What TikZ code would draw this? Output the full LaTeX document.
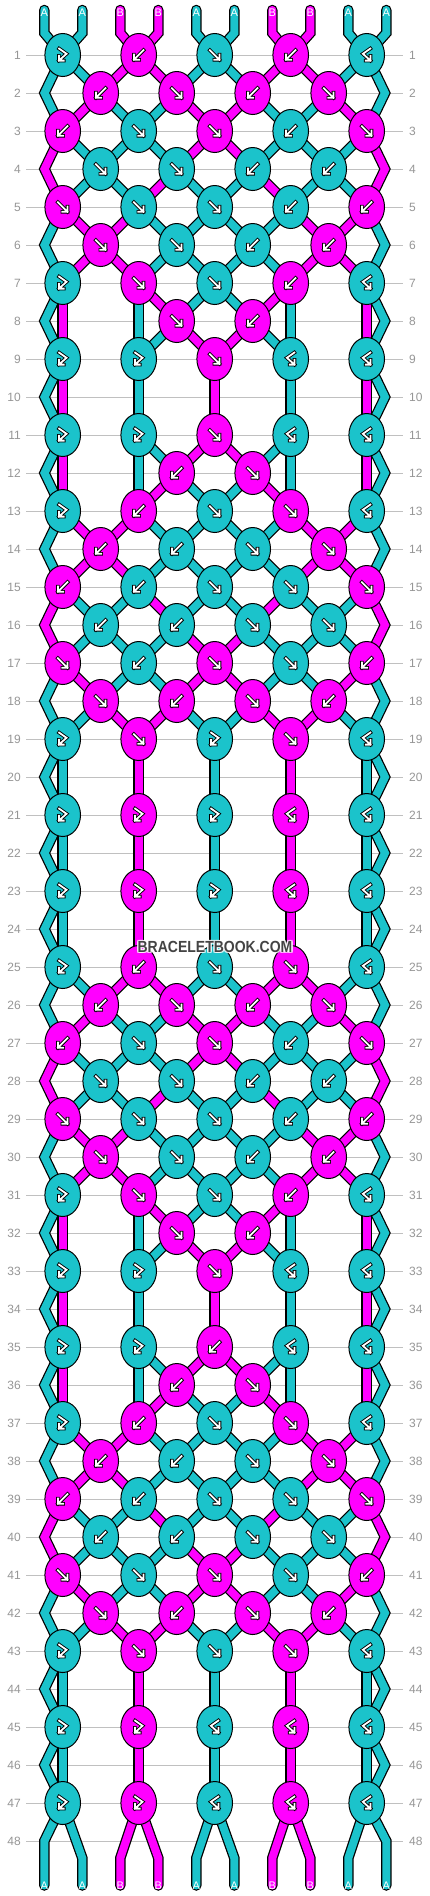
\documentclass[tikz,border=0pt]{standalone}
\usepackage{fontspec}
\setmainfont{Liberation Sans}
\usetikzlibrary{shapes.geometric}
\definecolor{colA}{RGB}{27,195,203}
\definecolor{colB}{RGB}{255,0,255}
\definecolor{gridc}{RGB}{192,192,192}
\definecolor{numc}{RGB}{150,150,150}
\definecolor{wmc}{RGB}{68,68,68}
\def\tyf{f}\def\tyb{b}\def\tyF{F}\def\tyB{B}
% knot types per row: f forward, b backward, F forward-backward, B backward-forward, 0 none
\foreach \rw/\qa/\qb/\qc/\qd/\qe in {
1/F/b/f/b/B, 2/b/f/b/f/x, 3/b/f/f/b/f, 4/f/f/b/b/x, 5/f/f/f/b/b, 6/f/f/b/b/x,
7/F/f/f/b/B, 8/0/f/b/0/x, 9/F/F/f/B/B, 10/0/0/0/0/x, 11/F/F/f/B/B, 12/0/b/f/0/x,
13/F/b/f/f/B, 14/b/b/f/f/x, 15/b/b/f/f/f, 16/b/b/f/f/x, 17/f/b/f/f/b, 18/f/b/f/b/x,
19/F/f/F/f/B, 20/0/0/0/0/x, 21/F/F/F/B/B, 22/0/0/0/0/x, 23/F/F/F/B/B, 24/0/0/0/0/x,
25/F/b/f/f/B, 26/b/f/b/f/x, 27/b/f/f/b/f, 28/f/f/b/b/x, 29/f/f/f/b/b, 30/f/f/b/b/x,
31/F/f/f/b/B, 32/0/f/b/0/x, 33/F/F/f/B/B, 34/0/0/0/0/x, 35/F/F/b/B/B, 36/0/b/f/0/x,
37/F/b/f/f/B, 38/b/b/f/f/x, 39/b/b/f/f/f, 40/b/b/f/f/x, 41/f/f/f/f/b, 42/f/b/f/b/x,
43/F/f/f/f/B, 44/0/0/0/0/x, 45/F/F/B/B/B, 46/0/0/0/0/x, 47/F/F/B/B/B, 48/0/0/0/0/x}{%
  \expandafter\xdef\csname kt-\rw-1\endcsname{\qa}%
  \expandafter\xdef\csname kt-\rw-2\endcsname{\qb}%
  \expandafter\xdef\csname kt-\rw-3\endcsname{\qc}%
  \expandafter\xdef\csname kt-\rw-4\endcsname{\qd}%
  \expandafter\xdef\csname kt-\rw-5\endcsname{\qe}%
}
% string colours at each position after row r
\foreach \rw/\qa/\qb/\qc/\qd/\qe/\qf/\qg/\qh/\qi/\qj in {
0/A/A/B/B/A/A/B/B/A/A, 1/A/A/B/B/A/A/B/B/A/A, 2/A/B/A/A/B/B/A/A/B/A,
3/B/A/A/A/B/B/A/A/A/B, 4/B/A/A/B/A/A/B/A/A/B, 5/A/B/B/A/A/A/A/B/B/A,
6/A/B/B/A/A/A/A/B/B/A, 7/A/B/A/B/A/A/B/A/B/A, 8/A/B/A/A/B/B/A/A/B/A,
9/A/B/A/A/B/B/A/A/B/A, 10/A/B/A/A/B/B/A/A/B/A, 11/A/B/A/A/B/B/A/A/B/A,
12/A/B/A/B/A/A/B/A/B/A, 13/A/B/B/A/A/A/A/B/B/A, 14/A/B/B/A/A/A/A/B/B/A,
15/B/A/A/B/A/A/B/A/A/B, 16/B/A/A/A/B/B/A/A/A/B, 17/A/B/A/A/B/B/A/A/B/A,
18/A/A/B/B/A/A/B/B/A/A, 19/A/A/B/B/A/A/B/B/A/A, 20/A/A/B/B/A/A/B/B/A/A,
21/A/A/B/B/A/A/B/B/A/A, 22/A/A/B/B/A/A/B/B/A/A, 23/A/A/B/B/A/A/B/B/A/A}{%
  \pgfmathtruncatemacro\rwb{\rw+24}%
  \foreach \rr in {\rw,\rwb}{%
    \foreach \qq [count=\pp] in {\qa,\qb,\qc,\qd,\qe,\qf,\qg,\qh,\qi,\qj}{%
      \expandafter\xdef\csname s-\rr-\pp\endcsname{\qq}}}%
}
\newcommand\gdraw[1]{\draw[gout] #1; \draw[gin] #1;}
\newcommand\kglyph[3]{%
  \begin{scope}[shift={(#2,#3)}]
  \ifx#1\tyf \gdraw{(-4.8,-4.8) -- (4.8,4.8) (-0.4,4.8) -- (4.8,4.8) -- (4.8,-0.4)}\fi
  \ifx#1\tyb \gdraw{(4.8,-4.8) -- (-4.8,4.8) (0.4,4.8) -- (-4.8,4.8) -- (-4.8,-0.4)}\fi
  \ifx#1\tyF \gdraw{(-3.6,-6.4) -- (3.8,-1.2) -- (-3.8,5.6) (-3.8,0.8) -- (-3.8,5.6) -- (1.0,5.6)}\fi
  \ifx#1\tyB \gdraw{(3.6,-6.4) -- (-3.8,-1.2) -- (3.8,5.6) (3.8,0.8) -- (3.8,5.6) -- (-1.0,5.6)}\fi
  \end{scope}}
\begin{document}
\begin{tikzpicture}[x=1pt,y=-1pt,
  tout/.style={draw=black,line width=10.5pt},
  tin/.style={draw=#1,line width=8pt},
  knot/.style={ellipse,draw=black,line width=1pt,minimum width=35.6pt,minimum height=43pt,inner sep=0pt},
  gout/.style={draw=black,line width=3.6pt,line cap=rect},
  gin/.style={draw=white,line width=1.8pt,line cap=rect},
  gridline/.style={draw=gridc,line width=1pt},
  num/.style={text=numc,font=\fontsize{12}{12}\selectfont,inner sep=0pt},
  lbl/.style={text=white,font=\fontsize{11}{11}\selectfont,inner sep=0pt},
  wm/.style={font=\fontsize{14}{14}\selectfont\bfseries,inner sep=0pt}]
\useasboundingbox (0,0) rectangle (430,1896);
\fill[white] (0,0) rectangle (430,1896);
% grid lines and row numbers
\foreach \rw in {1,...,48}{%
  \pgfmathsetmacro\py{55+38*(\rw-1)}%
  \coordinate (gl-\rw) at (26,\py);
  \coordinate (gr-\rw) at (403.3,\py);
  \draw[gridline] (gl-\rw) -- (gr-\rw);
  \node[num,anchor=east] (nl-\rw) at (21,\py) {\rw};
  \node[num,anchor=west] (nr-\rw) at (409,\py) {\rw};
}
% thread nodes (knots, edge points, pass-through points)
\foreach \rw in {1,...,48}{%
  \pgfmathsetmacro\py{55+38*(\rw-1)}%
  \pgfmathtruncatemacro\isodd{mod(\rw,2)}%
  \foreach \pp in {1,...,10}{%
    \pgfmathtruncatemacro\kc{int((\pp+1)/2)}%
    \pgfmathtruncatemacro\kf{int(\pp/2)}%
    \pgfmathsetmacro\px{62.7+76*(\kc-1)}%
    \ifnum\isodd=0
      \ifnum\pp=1 \def\px{44.5}\fi
      \ifnum\pp=10 \def\px{385}\fi
      \ifnum\kf>0 \ifnum\pp<10 \edef\ktype{\csname kt-\rw-\kf\endcsname}\if0\ktype\else\pgfmathsetmacro\px{100.7+76*(\kf-1)}\fi\fi\fi
    \fi
    \coordinate (n-\rw-\pp) at (\px,\py);
  }%
}
% top threads
\foreach \pp in {1,...,10}{%
  \pgfmathsetmacro\px{44.3+38*(\pp-1)}%
  \coordinate (t0-\pp) at (\px,10);
  \coordinate (t-\pp) at (\px,33);
  \edef\ca{col\csname s-0-\pp\endcsname}%
  \draw[tout,line cap=round] (t0-\pp) -- (t-\pp) -- (n-1-\pp);
  \draw[tin=\ca,line cap=round] (t0-\pp) -- (t-\pp) -- (n-1-\pp);
}
% middle threads
\foreach \rw in {1,3,...,45}{%
  \pgfmathtruncatemacro\rwm{\rw+1}%
  \pgfmathtruncatemacro\rwn{\rw+2}%
  \foreach \pp in {1,...,10}{%
    \pgfmathtruncatemacro\kf{int(\pp/2)}%
    \def\haskn{0}%
    \ifnum\kf>0 \ifnum\pp<10 \edef\ktype{\csname kt-\rwm-\kf\endcsname}\if0\ktype\else\def\haskn{1}\fi\fi\fi
    \edef\ca{col\csname s-\rw-\pp\endcsname}%
    \edef\cb{col\csname s-\rwm-\pp\endcsname}%
    \ifnum\haskn=1
      \draw[tout] (n-\rw-\pp) -- (n-\rwm-\pp);
      \draw[tin=\ca] (n-\rw-\pp) -- (n-\rwm-\pp);
      \draw[tout] (n-\rwm-\pp) -- (n-\rwn-\pp);
      \draw[tin=\cb] (n-\rwm-\pp) -- (n-\rwn-\pp);
    \else
      \draw[tout] (n-\rw-\pp) -- (n-\rwm-\pp) -- (n-\rwn-\pp);
      \draw[tin=\ca] (n-\rw-\pp) -- (n-\rwm-\pp) -- (n-\rwn-\pp);
    \fi
  }%
}
% bottom threads
\foreach \pp in {1,...,10}{%
  \pgfmathsetmacro\px{44.3+38*(\pp-1)}%
  \def\by{1858}\ifnum\pp=1 \def\by{1841}\fi\ifnum\pp=10 \def\by{1841}\fi
  \coordinate (b-\pp) at (\px,\by);
  \coordinate (b0-\pp) at (\px,1885.5);
  \edef\ca{col\csname s-47-\pp\endcsname}%
  \draw[tout,line cap=round] (n-47-\pp) -- (b-\pp) -- (b0-\pp);
  \draw[tin=\ca,line cap=round] (n-47-\pp) -- (b-\pp) -- (b0-\pp);
}
% knots
\foreach \rw in {1,...,48}{%
  \pgfmathsetmacro\py{55+38*(\rw-1)}%
  \pgfmathtruncatemacro\isodd{mod(\rw,2)}%
  \pgfmathtruncatemacro\rwp{\rw-1}%
  \ifnum\isodd=1 \def\nk{5}\else\def\nk{4}\fi
  \foreach \kk in {1,...,\nk}{%
    \edef\ktype{\csname kt-\rw-\kk\endcsname}%
    \if0\ktype\else
      \ifnum\isodd=1
        \pgfmathsetmacro\px{62.7+76*(\kk-1)}\pgfmathtruncatemacro\lp{2*\kk-1}%
      \else
        \pgfmathsetmacro\px{100.7+76*(\kk-1)}\pgfmathtruncatemacro\lp{2*\kk}%
      \fi
      \pgfmathtruncatemacro\rp{\lp+1}%
      \let\side\lp
      \ifx\ktype\tyb\let\side\rp\fi
      \ifx\ktype\tyB\let\side\rp\fi
      \edef\kcol{col\csname s-\rwp-\side\endcsname}%
      \node[knot,fill=\kcol] (k-\rw-\kk) at (\px,\py) {};
      \kglyph{\ktype}{\px}{\py}%
    \fi
  }%
}
% string labels
\foreach \pp in {1,...,10}{%
  \pgfmathsetmacro\px{44.3+38*(\pp-1)}%
  \node[lbl] (lt-\pp) at (\px,12.6) {\csname s-0-\pp\endcsname};
  \node[lbl] (lb-\pp) at (\px,1885.3) {\csname s-47-\pp\endcsname};
}
% watermark
\foreach \dx/\dy [count=\ii] in {1/0,-1/0,0/1,0/-1,1/1,1/-1,-1/1,-1/-1}{%
  \node[wm,text=white,opacity=0.6] (wmh-\ii) at (215+\dx*1.3,947+\dy*1.3) {\scalebox{1}[1.15]{BRACELETBOOK.COM}};
}
\node[wm,text=wmc] (wm) at (215,947) {\scalebox{1}[1.15]{BRACELETBOOK.COM}};
\end{tikzpicture}
\end{document}
